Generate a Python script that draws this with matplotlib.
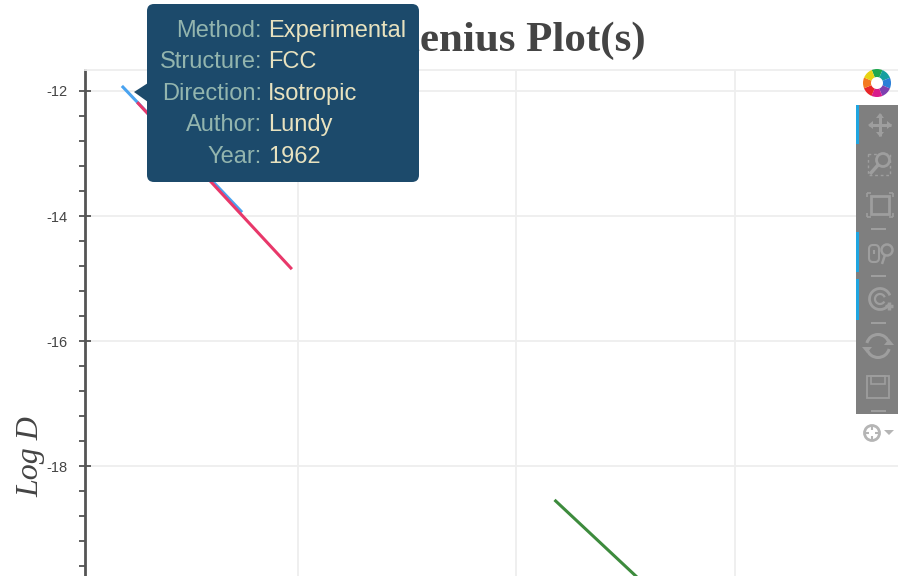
import matplotlib
matplotlib.use("Agg")
import matplotlib.pyplot as plt
from matplotlib.patches import Rectangle, FancyBboxPatch, Polygon, Wedge, Circle, Arc
from matplotlib.ticker import MultipleLocator

W, H = 898, 576

# values (x axis labels are cropped off)
blue_x = [0.597, 0.872]
blue_y = [-11.92, -13.94]
red_x = [0.632, 0.986]
red_y = [-12.18, -14.85]
green_x = [1.587, 1.827]
green_y = [-18.54, -20.11]

x_ticks = [1.0, 1.5, 2.0]
y_ticks = [-18, -16, -14, -12]
y_labels = ["-18", "-16", "-14", "-12"]

title = "Arrhenius Plot(s)"
y_title = "Log D"
tip_keys = ["Method:", "Structure:", "Direction:", "Author:", "Year:"]
tip_vals = ["Experimental", "FCC", "Isotropic", "Lundy", "1962"]

fig = plt.figure(figsize=(W / 100, H / 100), dpi=100)
ax = fig.add_axes([85 / W, 0, (W - 85) / W, (H - 70) / H])
ax.set_xlim(0.5126, 2.373)
ax.set_ylim(-19.757, -11.665)

ax.plot(blue_x, blue_y, color="#4aa3f0", lw=2.2, solid_capstyle="butt")
ax.plot(red_x, red_y, color="#e8386a", lw=2.2, solid_capstyle="butt")
ax.plot(green_x, green_y, color="#3d8b3d", lw=2.2, solid_capstyle="butt")

ax.set_xticks(x_ticks)
ax.set_yticks(y_ticks)
ax.set_yticklabels(y_labels, fontfamily="Liberation Sans", fontsize=10.5, color="#444444")
ax.yaxis.set_minor_locator(MultipleLocator(0.4))
ax.grid(True, color="#eeeeee", lw=1.3)
ax.set_axisbelow(True)
ax.tick_params(axis="x", length=0, labelbottom=False)
ax.tick_params(axis="y", which="major", direction="inout", length=9, width=1.2, color="#444444", pad=8)
ax.tick_params(axis="y", which="minor", direction="out", length=4.5, width=1.2, color="#444444")
for s in ["right", "bottom"]:
    ax.spines[s].set_visible(False)
ax.spines["top"].set_color("#eeeeee")
ax.spines["top"].set_linewidth(1.3)
ax.spines["left"].set_color("#555555")
ax.spines["left"].set_linewidth(2)

# overlay in pixel coordinates for title, tooltip and toolbar
ov = fig.add_axes([0, 0, 1, 1], facecolor="none")
ov.set_xlim(0, W)
ov.set_ylim(H, 0)
ov.axis("off")

ov.text(646, 51, title, ha="right", va="baseline", fontfamily="Liberation Serif",
        fontweight="bold", fontsize=31, color="#444444")
ov.text(31, 457, y_title, rotation=90, ha="center", va="center", fontfamily="Liberation Serif",
        fontstyle="italic", fontsize=23, color="#444444")

# tooltip
tip_color = "#1c4a6b"
ov.add_patch(FancyBboxPatch((153, 10), 260, 166, boxstyle="round,pad=6,rounding_size=7",
                            fc=tip_color, ec="none", zorder=5))
ov.add_patch(Polygon([(134, 92), (148, 83), (148, 102)], fc=tip_color, ec="none", zorder=5))
tip_rows = [37, 68, 100, 131, 163]
for yy, k, v in zip(tip_rows, tip_keys, tip_vals):
    ov.text(262, yy, k, ha="right", va="baseline", fontfamily="Liberation Sans",
            fontsize=17, color="#93b5ae", zorder=6)
    ov.text(268, yy, v, ha="left", va="baseline", fontfamily="Liberation Sans",
            fontsize=17, color="#e8e2bf", zorder=6)

# logo
logo_colors = ["#1fa84f", "#15a0a0", "#2a7fd8", "#7d3fb0", "#d81b8c", "#e8262a", "#f47a20", "#e8d313"]
for i, c in enumerate(logo_colors):
    ov.add_patch(Wedge((877, 83), 14, 45 * i - 112, 45 * i - 67, width=8, fc=c, ec="none", zorder=6))

# toolbar
ic = "#9e9e9e"
ov.add_patch(Rectangle((856, 105), 42, 309, fc="#7f7f7f", ec="none", zorder=5))
for top, bottom in [(105, 144), (232, 272), (279, 320)]:
    ov.add_patch(Rectangle((856, top), 3, bottom - top, fc="#1fa5e0", ec="none", zorder=6))
for yy in [229, 276, 323, 411]:
    ov.add_patch(Rectangle((871, yy - 1), 15, 2, fc=ic, ec="none", zorder=6))


def seg(x0, y0, x1, y1, lw=1.6, color=ic):
    ov.plot([x0, x1], [y0, y1], color=color, lw=lw, zorder=7, solid_capstyle="butt")


# move
seg(869, 125, 891, 125, 2.2)
seg(880, 114, 880, 136, 2.2)
for dx, dy in [(1, 0), (-1, 0), (0, 1), (0, -1)]:
    tip_x, tip_y = 880 + dx * 12, 125 + dy * 12
    ov.add_patch(Polygon([(tip_x, tip_y),
                          (tip_x - dx * 5 + dy * 4, tip_y - dy * 5 + dx * 4),
                          (tip_x - dx * 5 - dy * 4, tip_y - dy * 5 - dx * 4)], fc=ic, ec="none", zorder=7))
# box zoom
ov.add_patch(Rectangle((868, 154), 22, 21, fc="none", ec=ic, lw=1, ls=(0, (2, 2)), zorder=7))
ov.add_patch(Circle((883, 160), 6.5, fc="#7f7f7f", ec=ic, lw=2, zorder=7))
seg(878, 165, 870, 174, 2.5)
# zoom to fit box
ov.add_patch(Rectangle((871, 196), 18, 18, fc="none", ec=ic, lw=2, zorder=7))
for cx, cy, sx, sy in [(867, 193, 1, 1), (893, 193, -1, 1), (867, 217, 1, -1), (893, 217, -1, -1)]:
    seg(cx, cy, cx + sx * 4, cy, 1.2)
    seg(cx, cy, cx, cy + sy * 4, 1.2)
# wheel zoom
ov.add_patch(FancyBboxPatch((871, 247), 6, 13, boxstyle="round,pad=2,rounding_size=4",
                            fc="none", ec=ic, lw=1.5, zorder=7))
seg(874, 250, 874, 254, 1.5)
ov.add_patch(Circle((887, 250), 5.5, fc="none", ec=ic, lw=1.8, zorder=7))
seg(885, 255, 882, 264, 1.8)
# wheel
ov.add_patch(Arc((880, 299), 21, 21, theta1=30, theta2=340, ec=ic, lw=2, zorder=7))
ov.add_patch(Arc((880, 299), 10, 10, theta1=30, theta2=340, ec=ic, lw=1.6, zorder=7))
seg(885, 306, 893, 306, 2.5)
seg(889, 302, 889, 310, 2.5)
# reset
ov.add_patch(Arc((878, 346), 23, 23, theta1=15, theta2=165, ec=ic, lw=2.2, zorder=7))
ov.add_patch(Arc((878, 346), 23, 23, theta1=195, theta2=345, ec=ic, lw=2.2, zorder=7))
ov.add_patch(Polygon([(884, 345), (894, 345), (889, 339)], fc=ic, ec="none", zorder=7))
ov.add_patch(Polygon([(862, 347), (872, 347), (867, 353)], fc=ic, ec="none", zorder=7))
# save
ov.add_patch(Rectangle((867, 376), 22, 22, fc="none", ec=ic, lw=1.3, zorder=7))
ov.add_patch(Rectangle((871, 376), 14, 8, fc="none", ec=ic, lw=1.2, zorder=7))
# crosshair below the toolbar
ov.add_patch(Circle((872, 433), 7.5, fc="none", ec="#b5b5b5", lw=2, zorder=7))
for dx, dy in [(1, 0), (-1, 0), (0, 1), (0, -1)]:
    seg(872 + dx * 3, 433 + dy * 3, 872 + dx * 7, 433 + dy * 7, 1.5, "#b5b5b5")
ov.add_patch(Polygon([(884, 430), (894, 430), (889, 435)], fc="#b5b5b5", ec="none", zorder=7))

fig.savefig("out.png", dpi=100)
